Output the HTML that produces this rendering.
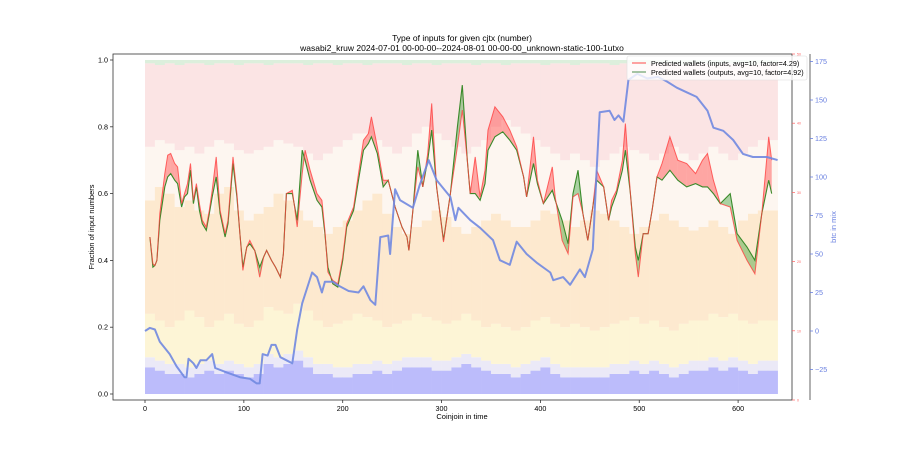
<!DOCTYPE html>
<html><head><meta charset="utf-8"><style>
body{margin:0;background:#fff;}
svg{display:block;font-family:"Liberation Sans",sans-serif;}
</style></head><body>
<svg id="chart" width="900" height="450" viewBox="0 0 900 450">
<text x="462" y="41" font-size="8.5" text-anchor="middle">Type of inputs for given cjtx (number)</text>
<text x="462" y="51" font-size="8.5" text-anchor="middle">wasabi2_kruw 2024-07-01 00-00-00--2024-08-01 00-00-00_unknown-static-100-1utxo</text>
<g id="bg"></g>
<g id="fills"></g>
<g id="lines"></g>
<rect x="113" y="54" width="679" height="346" fill="none" stroke="#333" stroke-width="0.8"/>
<line x1="810" y1="54" x2="810" y2="400" stroke="#999" stroke-width="1.5"/>
<g id="axes"></g>
<text x="462" y="419" font-size="7.5" text-anchor="middle">Coinjoin in time</text>
<text transform="translate(94,227) rotate(-90)" font-size="7.5" text-anchor="middle">Fraction of input numbers</text>
<text transform="translate(836,227) rotate(-90)" font-size="7.5" fill="#6a80e0" text-anchor="middle">btc in mix</text>
<g>
<rect x="627" y="56" width="180" height="24" fill="#fff" fill-opacity="0.8" stroke="#ddd" stroke-width="0.6" rx="2"/>
<line x1="632" y1="63" x2="646" y2="63" stroke="#ff6666" stroke-width="1.2"/>
<text x="651" y="66" font-size="7.2">Predicted wallets (inputs, avg=10, factor=4.29)</text>
<line x1="632" y1="72" x2="646" y2="72" stroke="#6a9f6a" stroke-width="1.2"/>
<text x="651" y="75" font-size="7.2">Predicted wallets (outputs, avg=10, factor=4.92)</text>
</g>
</svg>
<script>
// ---- data ----
const walletIdx = [5,8,10,12,15,20,23,26,30,33,37,40,43,46,49,52,55,58,62,65,68,72,76,81,84,89,93,96,99,103,106,111,116,120,123,128,132,137,140,143,149,154,159,162,167,174,179,182,185,190,195,200,204,211,216,221,226,229,235,241,246,253,260,265,267,271,276,281,286,290,295,302,309,316,321,326,329,334,339,344,347,354,362,369,376,383,386,393,397,403,412,415,422,428,433,438,443,448,453,457,464,469,472,477,483,486,491,496,499,504,509,513,518,523,531,539,548,557,564,569,575,582,592,599,609,617,624,631,634];
const inputsWallets = [.47,.39,.385,.40,.54,.66,.715,.72,.69,.68,.57,.60,.63,.69,.58,.63,.57,.52,.50,.55,.61,.71,.55,.48,.52,.71,.60,.48,.37,.44,.46,.43,.35,.41,.43,.40,.38,.35,.42,.60,.61,.50,.66,.73,.67,.60,.58,.49,.365,.34,.33,.41,.51,.56,.66,.76,.78,.83,.74,.64,.64,.56,.50,.47,.43,.55,.68,.62,.72,.87,.62,.455,.60,.74,.85,.70,.60,.71,.59,.67,.79,.86,.83,.79,.74,.65,.59,.77,.64,.57,.68,.59,.46,.42,.59,.60,.54,.46,.56,.67,.62,.52,.58,.61,.70,.81,.60,.42,.35,.48,.48,.55,.65,.69,.77,.70,.69,.66,.70,.72,.64,.57,.56,.46,.40,.36,.54,.77,.70];
const outputsWallets = [.47,.38,.385,.40,.52,.62,.65,.66,.64,.63,.56,.59,.60,.67,.57,.62,.55,.51,.49,.54,.59,.65,.54,.47,.51,.69,.59,.48,.38,.44,.45,.43,.38,.41,.43,.40,.38,.35,.42,.60,.60,.52,.73,.70,.64,.58,.56,.48,.38,.33,.32,.40,.50,.55,.64,.73,.75,.77,.72,.62,.64,.56,.50,.47,.43,.55,.73,.62,.70,.79,.62,.46,.60,.80,.925,.70,.60,.60,.58,.63,.73,.77,.785,.76,.73,.65,.59,.69,.63,.57,.61,.58,.52,.45,.60,.67,.54,.46,.56,.64,.62,.52,.56,.60,.67,.73,.60,.44,.40,.48,.48,.55,.65,.64,.67,.64,.62,.63,.62,.62,.60,.57,.60,.48,.44,.40,.54,.64,.60];
const btcIdx = [0,5,10,15,25,32,40,42,44,49,52,56,62,68,71,83,96,106,113,116,119,124,128,132,137,149,154,159,169,174,179,182,190,197,206,216,221,228,233,238,246,248,253,258,271,278,287,295,309,314,317,329,339,352,359,369,376,386,397,410,413,423,430,437,440,445,453,457,460,470,475,479,484,489,498,508,519,528,538,548,558,569,575,585,595,605,615,629,640];
const btcInMix = [0,2,1,-7,-15,-23,-30,-30,-18,-21,-24,-19,-19,-15,-24,-27,-30,-31,-34,-34,-15,-16,-9,-9,-17,-21,1,18,38,35,25,32,32,29,26,25,29,20,17,61,62,50,92,85,80,95,111,98,87,72,80,72,67,59,46,43,58,50,44,38,33,35,30,37,40,35,53,105,142,143,137,140,136,163,167,164,165,162,158,155,152,143,132,130,124,115,113,113,111];
const binSize = 10;
const blueShare = [.08,.07,.06,.06,.05,.06,.07,.06,.07,.06,.05,.06,.09,.08,.09,.10,.08,.06,.06,.05,.05,.06,.06,.07,.06,.07,.08,.08,.08,.07,.07,.08,.09,.08,.07,.06,.06,.05,.06,.07,.08,.06,.05,.05,.05,.05,.05,.06,.06,.07,.06,.07,.06,.05,.06,.07,.07,.08,.07,.08,.07,.06,.07,.07];
const yellowTop = [.24,.22,.20,.22,.25,.23,.20,.22,.24,.21,.20,.22,.26,.25,.24,.27,.25,.22,.20,.21,.22,.24,.23,.22,.20,.21,.22,.24,.23,.22,.21,.22,.24,.22,.20,.21,.20,.19,.20,.22,.23,.21,.20,.21,.20,.19,.20,.21,.22,.23,.21,.22,.20,.19,.21,.22,.22,.24,.23,.24,.22,.21,.22,.22];
const orangeTop = [.58,.62,.60,.56,.58,.55,.54,.60,.62,.55,.52,.54,.56,.60,.58,.55,.52,.50,.48,.50,.52,.55,.58,.60,.54,.50,.48,.50,.52,.55,.53,.50,.48,.50,.52,.54,.52,.50,.50,.52,.55,.54,.52,.50,.52,.55,.54,.52,.50,.48,.50,.52,.54,.52,.50,.49,.50,.52,.50,.48,.52,.54,.55,.55];
const creamTop = [.74,.76,.75,.73,.74,.72,.74,.76,.75,.73,.72,.73,.74,.76,.75,.74,.72,.70,.72,.74,.76,.78,.78,.76,.74,.72,.74,.78,.80,.78,.76,.74,.72,.74,.76,.80,.82,.80,.78,.76,.74,.72,.70,.72,.70,.68,.70,.72,.74,.73,.72,.70,.72,.74,.72,.70,.72,.74,.72,.70,.72,.74,.76,.76];
const pinkTop = [.99,.985,.99,.985,.99,.99,.985,.99,.99,.985,.99,.99,.985,.99,.99,.99,.985,.99,.99,.985,.99,.99,.985,.99,.99,.99,.985,.99,.99,.985,.99,.99,.99,.985,.99,.99,.985,.99,.99,.99,.985,.99,.99,.985,.99,.99,.99,.985,.99,.99,.985,.99,.99,.99,.985,.99,.99,.985,.99,.99,.99,.985,.99,.99];
const xTicks = [0,100,200,300,400,500,600];
const yTicks = [0,0.2,0.4,0.6,0.8,1.0];
const btcTicks = [-25,0,25,50,75,100,125,150,175];
const countTicks = [0,10,20,30,40,50];

// ---- scales ----
const X = i => 145 + i*0.9885;
const Y = v => 394 - v*334;
const YB = v => 331 - v*1.54;
const YC = v => 400 - v*6.92;
const NS = 'http://www.w3.org/2000/svg';
function mk(tag, attrs, parent){const e=document.createElementNS(NS,tag);for(const k in attrs)e.setAttribute(k,attrs[k]);parent.appendChild(e);return e;}

const bg=document.getElementById('bg');
const layerColors=['#bcbcfb','#ebe9f7','#fdf5d6','#fde9cf','#fdf6f0','#fbe4e4','#dcefdc'];
for(let b=0;b<blueShare.length;b++){
  const bounds=[0,blueShare[b],blueShare[b]+0.03,yellowTop[b],orangeTop[b],creamTop[b],pinkTop[b],1];
  const x0=X(b*binSize), w=X((b+1)*binSize)-x0+0.3;
  for(let l=0;l<7;l++){
    const r=mk('rect',{x:x0,y:Y(bounds[l+1]),width:w,height:Y(bounds[l])-Y(bounds[l+1]),fill:layerColors[l]},bg);
    
    
  }
}

const fills=document.getElementById('fills');
for(let k=0;k<walletIdx.length-1;k++){
  const a=inputsWallets[k],b=inputsWallets[k+1],c=outputsWallets[k],d=outputsWallets[k+1];
  const x1=X(walletIdx[k]),x2=X(walletIdx[k+1]);
  const col=(a+b)>=(c+d)?'#ff3030':'#2e9a2e';
  const p=mk('polygon',{points:`${x1},${Y(a)} ${x2},${Y(b)} ${x2},${Y(d)} ${x1},${Y(c)}`,fill:col,'fill-opacity':0.4},fills);
  
  
}
const lines=document.getElementById('lines');
function pl(idx,vals,sc){return idx.map((i,k)=>X(i).toFixed(1)+','+sc(vals[k]).toFixed(1)).join(' ');}
const lo=mk('polyline',{points:pl(walletIdx,outputsWallets,Y),fill:'none',stroke:'#3a8a2a',"stroke-width":1.1},lines);


const li=mk('polyline',{points:pl(walletIdx,inputsWallets,Y),fill:'none',stroke:'#ff4040','stroke-width':1,'stroke-opacity':0.8},lines);


const lb=mk('polyline',{points:pl(btcIdx,btcInMix,YB),fill:'none',stroke:'#7088e0','stroke-width':2,'stroke-opacity':0.9,'stroke-linejoin':'round'},lines);



const ax=document.getElementById('axes');
xTicks.forEach(t=>{
  mk('line',{x1:X(t),y1:400,x2:X(t),y2:403,stroke:'#333','stroke-width':0.8},ax);
  const tx=mk('text',{x:X(t),y:411,'font-size':7.2,'text-anchor':'middle'},ax);tx.textContent=t;
  
  
});
yTicks.forEach(t=>{
  mk('line',{x1:110,y1:Y(t),x2:113,y2:Y(t),stroke:'#333','stroke-width':0.8},ax);
  const tx=mk('text',{x:108,y:Y(t)+2.5,'font-size':7.2,'text-anchor':'end'},ax);tx.textContent=t.toFixed(1);
  
  
});
countTicks.forEach(t=>{
  mk('line',{x1:792,y1:YC(t),x2:795,y2:YC(t),stroke:'#ff6060','stroke-width':0.7},ax);
  const tx=mk('text',{x:797,y:YC(t)+1.5,'font-size':3.5,fill:'#ff6060'},ax);tx.textContent=t;
  
  
});
btcTicks.forEach(t=>{
  mk('line',{x1:810,y1:YB(t),x2:813,y2:YB(t),stroke:'#6a80e0','stroke-width':0.8},ax);
  const tx=mk('text',{x:815,y:YB(t)+2.5,'font-size':7.2,fill:'#6a80e0'},ax);tx.textContent=t<0?'\u2212'+(-t):t;
  
  
});
</script>
</body></html>
